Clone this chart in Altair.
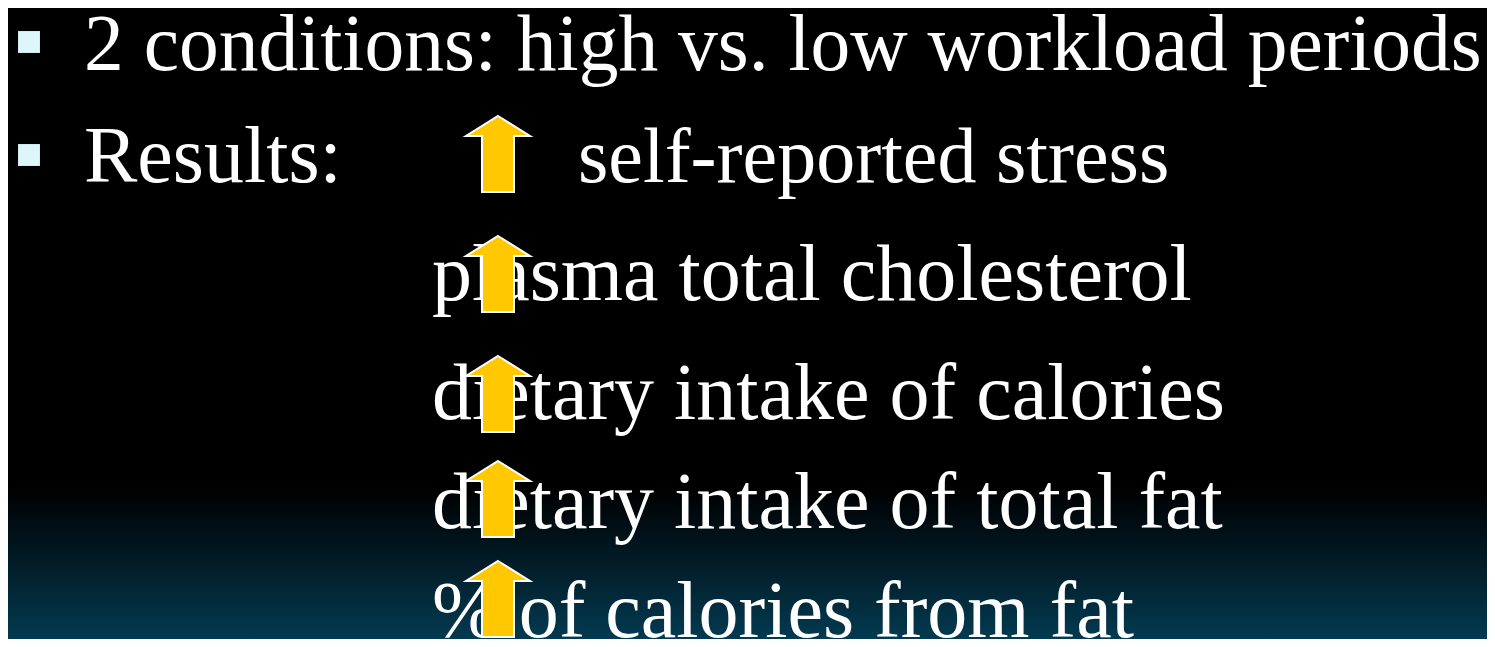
import altair as alt
import pandas as pd

# ---- slide content ----
labels = [
    "2 conditions: high vs. low workload periods",
    "Results:",
    "self-reported stress",
    "plasma total cholesterol",
    "dietary intake of calories",
    "dietary intake of total fat",
    "% of calories from fat",
]
label_x = [84, 84, 578, 432, 432, 432, 432]
label_baseline = [70, 182, 182, 300, 419, 528, 637]
label_size = [79.5, 80, 78, 80, 80, 80, 80]

bullet_x = [29, 29]
bullet_y = [42, 155]

arrow_x = [498, 498, 498, 498, 498]
arrow_y = [154, 274, 394, 499, 599]

# ---- layout ----
W, H = 1479, 631
xs = alt.Scale(domain=[8, 8 + W], nice=False, zero=False)
ys = alt.Scale(domain=[8, 8 + H], nice=False, zero=False, reverse=True)

text_df = pd.DataFrame({"label": labels, "x": label_x, "y": label_baseline, "size": label_size})
bullet_df = pd.DataFrame({"x": bullet_x, "y": bullet_y})
arrow_df = pd.DataFrame({"x": arrow_x, "y": arrow_y})

bg = alt.Chart(pd.DataFrame({"a": [0]})).mark_rect(
    color=alt.LinearGradient(
        gradient="linear",
        stops=[
            alt.GradientStop(color="#000000", offset=0),
            alt.GradientStop(color="#000000", offset=0.76),
            alt.GradientStop(color="#021c28", offset=0.88),
            alt.GradientStop(color="#033a50", offset=1),
        ],
        x1=0, x2=0, y1=0, y2=1,
    )
).encode(x=alt.value(0), x2=alt.value(W), y=alt.value(0), y2=alt.value(H))

bullets = alt.Chart(bullet_df).mark_square(
    color="#DDF6FA", size=480, opacity=1, filled=True
).encode(x=alt.X("x:Q", scale=xs, axis=None), y=alt.Y("y:Q", scale=ys, axis=None))

texts = alt.Chart(text_df).mark_text(
    font="Liberation Serif", color="white", align="left", baseline="alphabetic"
).encode(
    x=alt.X("x:Q", scale=xs, axis=None),
    y=alt.Y("y:Q", scale=ys, axis=None),
    text="label:N",
    size=alt.Size("size:Q", scale=None, legend=None),
)

arrow_path = "M0,-1 L0.842,-0.474 L0.421,-0.474 L0.421,1 L-0.421,1 L-0.421,-0.474 L-0.842,-0.474 Z"
arrows = alt.Chart(arrow_df).mark_point(
    shape=arrow_path, size=76 * 76, filled=True, fill="#FFC800", stroke="white",
    strokeWidth=2, opacity=1, fillOpacity=1, strokeOpacity=1,
).encode(x=alt.X("x:Q", scale=xs, axis=None), y=alt.Y("y:Q", scale=ys, axis=None))

chart = alt.layer(bg, bullets, texts, arrows).properties(
    width=W, height=H, padding=0, background="#000000", autosize="none"
).configure_view(stroke=None)

chart.save("out.html", embed_options={"renderer": "svg", "actions": False})
